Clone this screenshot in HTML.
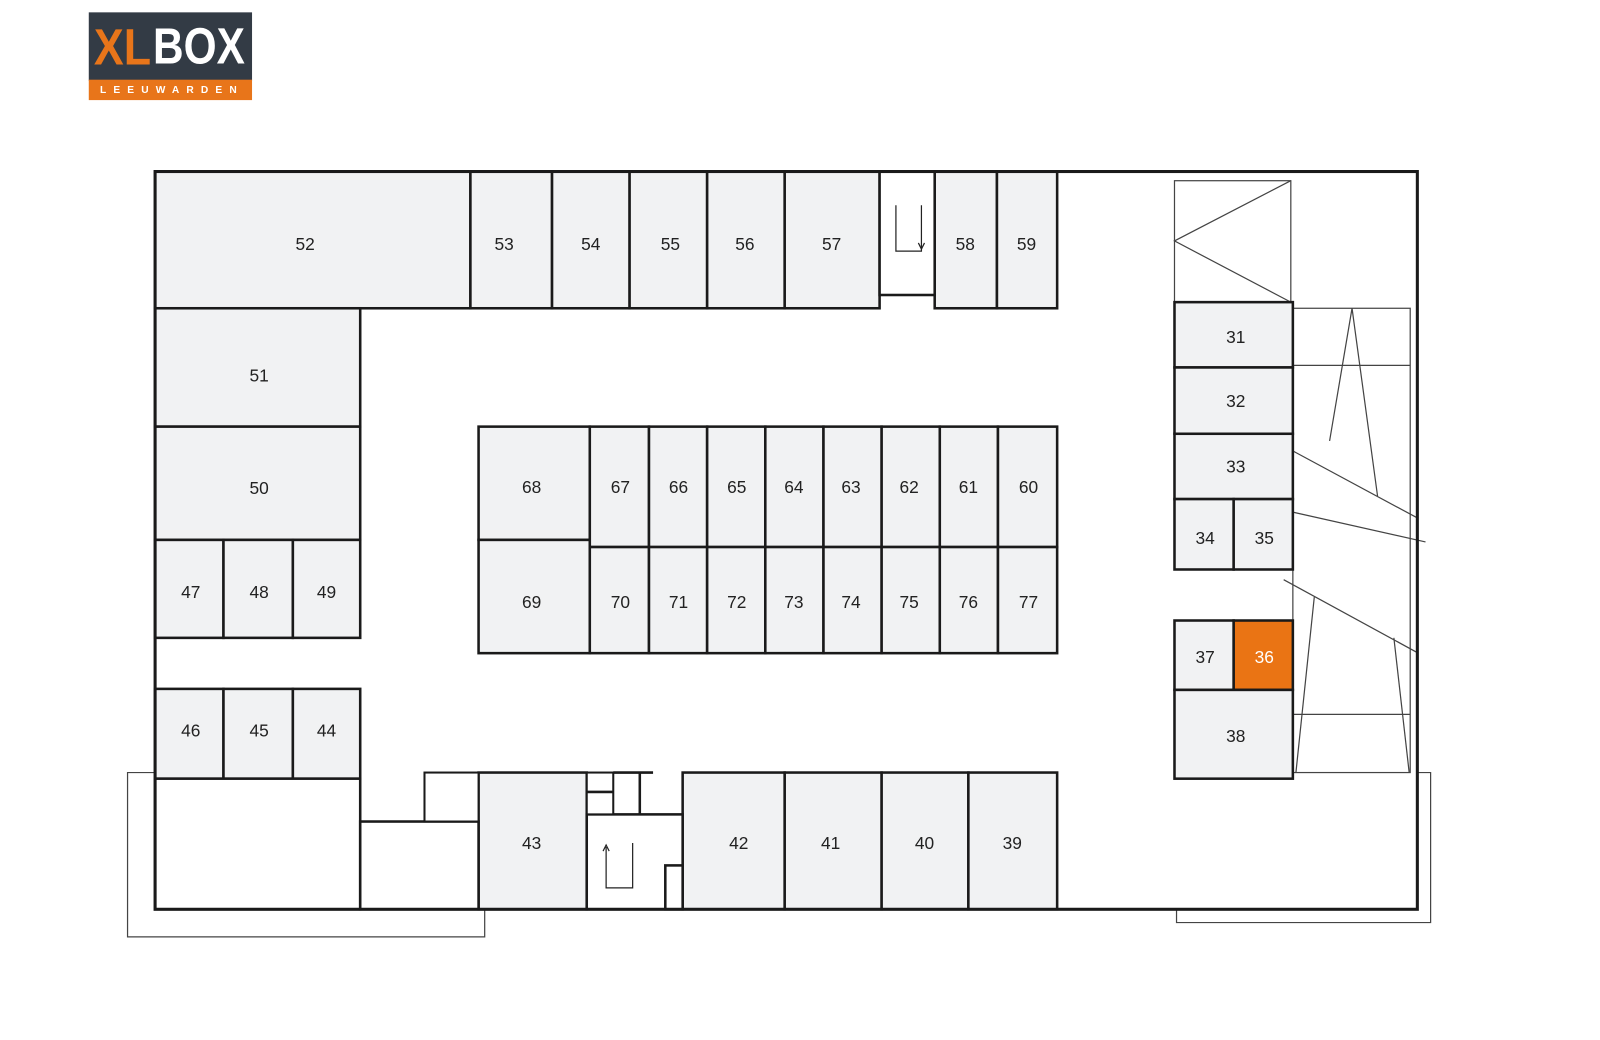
<!DOCTYPE html>
<html><head><meta charset="utf-8"><style>
html,body{margin:0;padding:0;background:#fff;width:1600px;height:1040px;overflow:hidden}
svg{display:block}
text{font-family:"Liberation Sans",sans-serif;font-size:17px;fill:#222;text-anchor:middle;dominant-baseline:central}
</style></head><body>
<svg width="1600" height="1040" viewBox="0 0 1568 1019" xmlns="http://www.w3.org/2000/svg">
<!-- logo -->
<rect x="87" y="12" width="160" height="67" fill="#333b45"/>
<rect x="87" y="78" width="160" height="20" fill="#e8751a"/>
<text x="120" y="46" style="font-size:50px;font-weight:bold;fill:#e8751a;font-family:'Liberation Sans Narrow','Liberation Sans',sans-serif" textLength="56" lengthAdjust="spacingAndGlyphs">XL</text>
<text x="195" y="45" style="font-size:50px;font-weight:bold;fill:#fff;font-family:'Liberation Sans Narrow','Liberation Sans',sans-serif" textLength="90" lengthAdjust="spacingAndGlyphs">BOX</text>
<text x="167" y="88.5" style="font-size:10px;font-weight:bold;fill:#fff;letter-spacing:4px" textLength="138">LEEUWARDEN</text>

<!-- thin outer outlines -->
<g fill="none" stroke="#444" stroke-width="1.2">
<polyline points="152,757 125,757 125,918 475,918 475,891"/>
<polyline points="1389,757 1402,757 1402,904 1153,904 1153,891"/>
<rect x="1151" y="177" width="114" height="119"/>
<polyline points="1265,177 1151,236 1265,296"/>
<rect x="1267" y="302" width="115" height="455"/>
<line x1="1267" y1="358" x2="1382" y2="358"/>
<line x1="1267" y1="700" x2="1382" y2="700"/>
<polyline points="1303,432 1325,302 1350,486"/>
<line x1="1258" y1="437" x2="1390" y2="508"/>
<line x1="1268" y1="502" x2="1397" y2="531"/>
<line x1="1258" y1="568" x2="1390" y2="640"/>
<line x1="1288" y1="585" x2="1270" y2="757"/>
<line x1="1366" y1="625" x2="1381" y2="757"/>
</g>

<!-- units -->
<g fill="#f1f2f3" stroke="#1a1a1a" stroke-width="2.5">
<rect x="152" y="168" width="309" height="134"/>
<rect x="461" y="168" width="80" height="134"/>
<rect x="541" y="168" width="76" height="134"/>
<rect x="617" y="168" width="76" height="134"/>
<rect x="693" y="168" width="76" height="134"/>
<rect x="769" y="168" width="93" height="134"/>
<rect x="916" y="168" width="61" height="134"/>
<rect x="977" y="168" width="59" height="134"/>
<rect x="152" y="302" width="201" height="116"/>
<rect x="152" y="418" width="201" height="111"/>
<rect x="152" y="529" width="67" height="96"/>
<rect x="219" y="529" width="68" height="96"/>
<rect x="287" y="529" width="66" height="96"/>
<rect x="152" y="675" width="67" height="88"/>
<rect x="219" y="675" width="68" height="88"/>
<rect x="287" y="675" width="66" height="88"/>
<rect x="469" y="757" width="106" height="134"/>
<rect x="669" y="757" width="100" height="134"/>
<rect x="769" y="757" width="95" height="134"/>
<rect x="864" y="757" width="85" height="134"/>
<rect x="949" y="757" width="87" height="134"/>
<rect x="469" y="418" width="109" height="111"/>
<rect x="469" y="529" width="109" height="111"/>
<rect x="578" y="418" width="58" height="118"/><rect x="636" y="418" width="57" height="118"/><rect x="693" y="418" width="57" height="118"/><rect x="750" y="418" width="57" height="118"/><rect x="807" y="418" width="57" height="118"/><rect x="864" y="418" width="57" height="118"/><rect x="921" y="418" width="57" height="118"/><rect x="978" y="418" width="58" height="118"/>
<rect x="578" y="536" width="58" height="104"/><rect x="636" y="536" width="57" height="104"/><rect x="693" y="536" width="57" height="104"/><rect x="750" y="536" width="57" height="104"/><rect x="807" y="536" width="57" height="104"/><rect x="864" y="536" width="57" height="104"/><rect x="921" y="536" width="57" height="104"/><rect x="978" y="536" width="58" height="104"/>
<rect x="1151" y="296" width="116" height="64"/>
<rect x="1151" y="360" width="116" height="65"/>
<rect x="1151" y="425" width="116" height="64"/>
<rect x="1151" y="489" width="58" height="69"/>
<rect x="1209" y="489" width="58" height="69"/>
<rect x="1151" y="608" width="58" height="68"/>
<rect x="1209" y="608" width="58" height="68" fill="#ea7414"/>
<rect x="1151" y="676" width="116" height="87"/>
</g>
<g fill="#fff" stroke="#1a1a1a" stroke-width="2.5">
<rect x="152" y="763" width="201" height="128"/>
<rect x="353" y="805" width="116" height="86"/>
<rect x="416" y="757" width="53" height="48" stroke-width="2"/>
<rect x="575" y="798" width="94" height="93"/>
<rect x="575" y="757" width="26" height="41" stroke-width="2"/>
<line x1="575" y1="776" x2="601" y2="776"/>
<line x1="627" y1="757" x2="627" y2="798"/>
<line x1="601" y1="757" x2="640" y2="757"/>
<rect x="652" y="848" width="17" height="43"/>
<rect x="862" y="168" width="54" height="121"/>
</g>
<g fill="none" stroke="#222" stroke-width="1.2">
<polyline points="620,826 620,870 594,870 594,830"/>
<polyline points="591,834 594,828 597,834"/>
<polyline points="878,201 878,246 903,246 903,201"/>
<polyline points="900,238 903,244 906,238"/>
</g>
<rect x="152" y="168" width="1237" height="723" fill="none" stroke="#1a1a1a" stroke-width="3"/>

<!-- labels -->
<text x="299" y="239">52</text><text x="494" y="239">53</text><text x="579" y="239">54</text><text x="657" y="239">55</text><text x="730" y="239">56</text><text x="815" y="239">57</text><text x="946" y="239">58</text><text x="1006" y="239">59</text>
<text x="254" y="368">51</text><text x="254" y="478">50</text>
<text x="187" y="580">47</text><text x="254" y="580">48</text><text x="320" y="580">49</text>
<text x="187" y="716">46</text><text x="254" y="716">45</text><text x="320" y="716">44</text>
<text x="521" y="826">43</text><text x="724" y="826">42</text><text x="814" y="826">41</text><text x="906" y="826">40</text><text x="992" y="826">39</text>
<text x="521" y="477">68</text><text x="521" y="590">69</text>
<text x="608" y="477">67</text><text x="665" y="477">66</text><text x="722" y="477">65</text><text x="778" y="477">64</text><text x="834" y="477">63</text><text x="891" y="477">62</text><text x="949" y="477">61</text><text x="1008" y="477">60</text>
<text x="608" y="590">70</text><text x="665" y="590">71</text><text x="722" y="590">72</text><text x="778" y="590">73</text><text x="834" y="590">74</text><text x="891" y="590">75</text><text x="949" y="590">76</text><text x="1008" y="590">77</text>
<text x="1211" y="330">31</text><text x="1211" y="393">32</text><text x="1211" y="457">33</text>
<text x="1181" y="527">34</text><text x="1239" y="527">35</text>
<text x="1181" y="644">37</text><text x="1239" y="644" style="fill:#fff">36</text>
<text x="1211" y="721">38</text>
</svg>
</body></html>
